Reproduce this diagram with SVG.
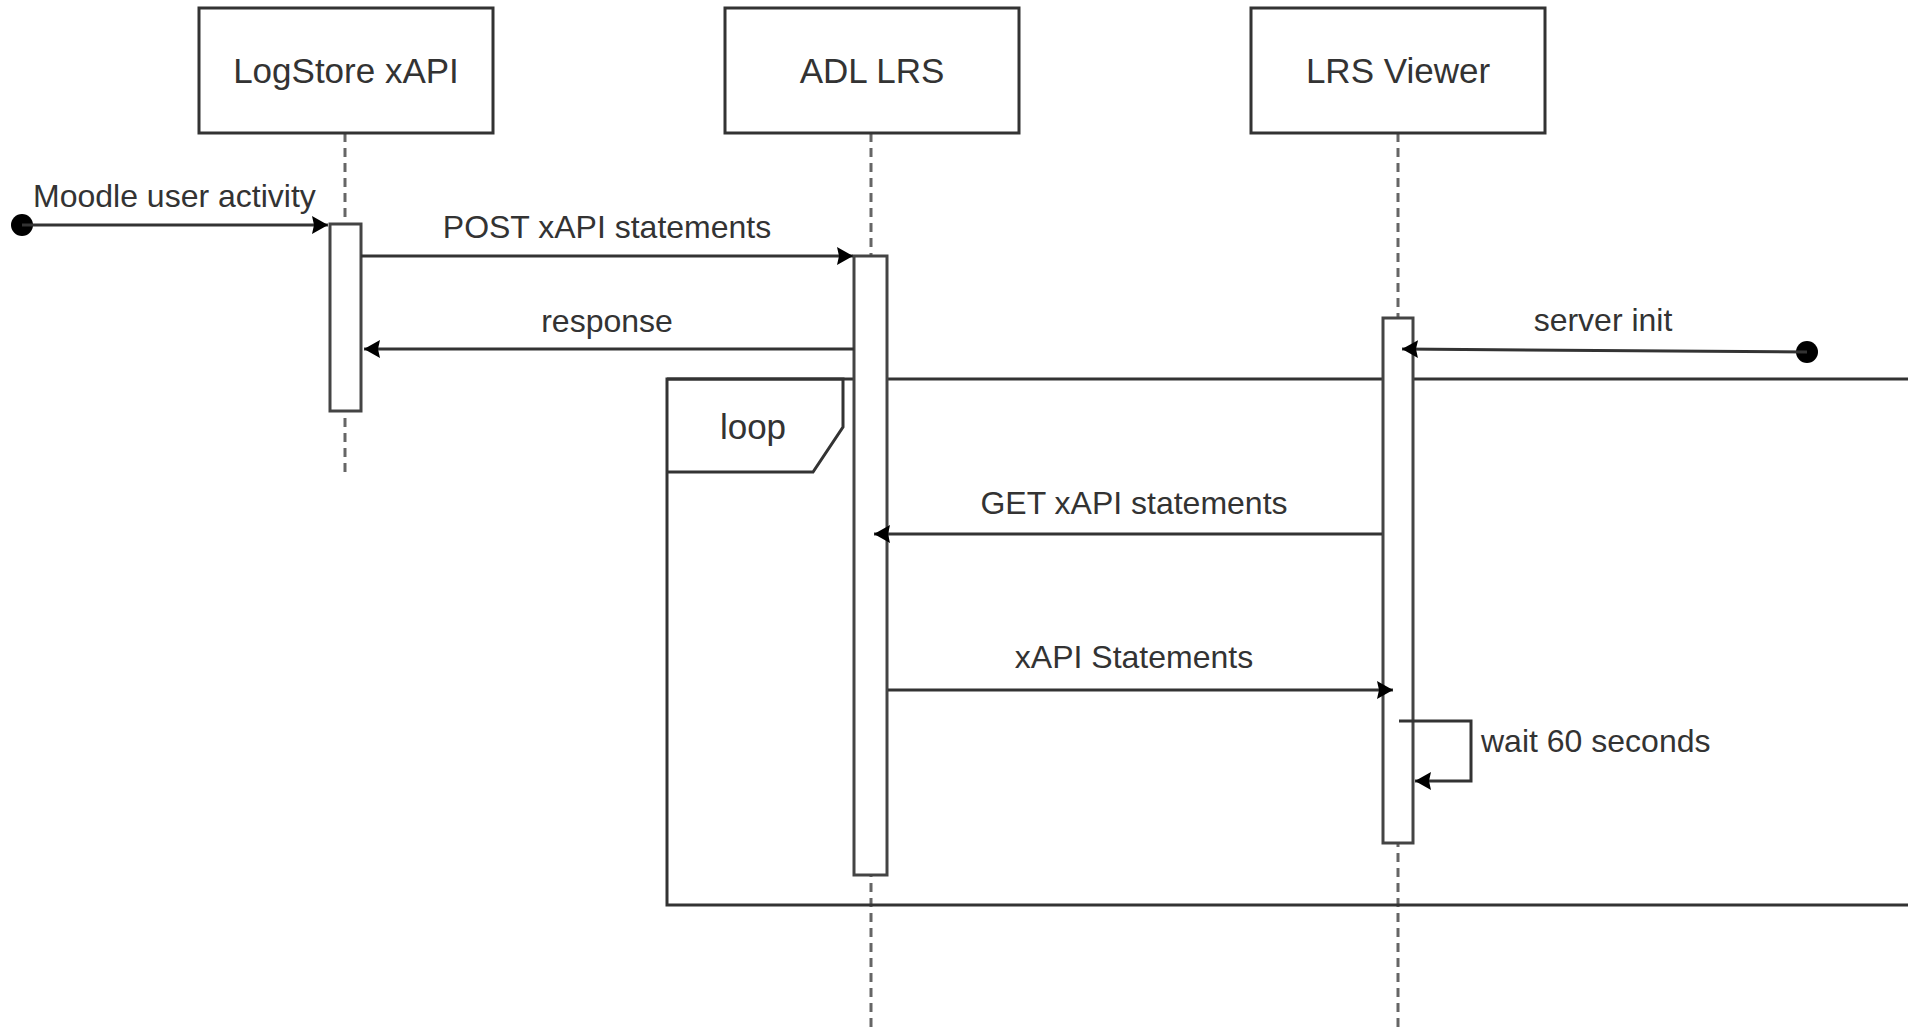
<svg xmlns="http://www.w3.org/2000/svg" width="1908" height="1032" viewBox="0 0 1908 1032">
<defs>
<style>
.box{fill:#fff;stroke:#333;stroke-width:3}
.bar{fill:#fff;stroke:#444;stroke-width:3}
.life{stroke:#666;stroke-width:3;stroke-dasharray:9 6;fill:none}
.msg{stroke:#333;stroke-width:3;fill:none}
.lbl{font-family:"Liberation Sans",Arial,sans-serif;font-size:35px;fill:#333;text-anchor:middle}
.mtxt{font-family:"Liberation Sans",Arial,sans-serif;font-size:32px;fill:#333}
</style>
<marker id="arr" markerUnits="userSpaceOnUse" markerWidth="22" markerHeight="22" refX="16" refY="11" orient="auto">
<path d="M0,2 L16,11 L0,20 L2,11 Z" fill="#000"/>
</marker>
</defs>
<rect width="1908" height="1032" fill="#fff"/>
<g id="lifelines">
<line class="life" x1="345" y1="133" x2="345" y2="472"/>
<line class="life" x1="871" y1="133" x2="871" y2="1032"/>
<line class="life" x1="1398" y1="133" x2="1398" y2="1032"/>
</g>
<g id="participant-logstore">
<rect class="box" x="199" y="8" width="294" height="125"/>
<text class="lbl" x="346" y="83">LogStore xAPI</text>
</g>
<g id="participant-adl">
<rect class="box" x="725" y="8" width="294" height="125"/>
<text class="lbl" x="872" y="83">ADL LRS</text>
</g>
<g id="participant-viewer">
<rect class="box" x="1251" y="8" width="294" height="125"/>
<text class="lbl" x="1398" y="83">LRS Viewer</text>
</g>
<g id="loop-frame">
<path class="msg" d="M1912,379 H667 V905 H1912"/>
<path class="msg" d="M667,379 H843 V427 L813,472 H667"/>
<text class="lbl" x="753" y="439">loop</text>
</g>
<g id="activation-logstore"><rect class="bar" x="330" y="224" width="31" height="187"/></g>
<g id="activation-adl"><rect class="bar" x="854" y="256" width="33" height="619"/></g>
<g id="activation-viewer"><rect class="bar" x="1383" y="318" width="30" height="525"/></g>
<g id="connectors">
<circle cx="22" cy="225" r="11" fill="#000"/>
<line class="msg" x1="22" y1="225" x2="328" y2="225" marker-end="url(#arr)"/>
<text class="mtxt" x="33" y="207">Moodle user activity</text>
<line class="msg" x1="361" y1="256" x2="853" y2="256" marker-end="url(#arr)"/>
<text class="mtxt" x="607" y="238" text-anchor="middle">POST xAPI statements</text>
<line class="msg" x1="854" y1="349" x2="364" y2="349" marker-end="url(#arr)"/>
<text class="mtxt" x="607" y="332" text-anchor="middle">response</text>
<circle cx="1807" cy="352" r="11" fill="#000"/>
<line class="msg" x1="1807" y1="352" x2="1402" y2="349" marker-end="url(#arr)"/>
<text class="mtxt" x="1603" y="331" text-anchor="middle">server init</text>
<line class="msg" x1="1382" y1="534" x2="874" y2="534" marker-end="url(#arr)"/>
<text class="mtxt" x="1134" y="514" text-anchor="middle">GET xAPI statements</text>
<line class="msg" x1="888" y1="690" x2="1393" y2="690" marker-end="url(#arr)"/>
<text class="mtxt" x="1134" y="668" text-anchor="middle">xAPI Statements</text>
<path class="msg" d="M1399,721 H1471 V781 H1415" marker-end="url(#arr)"/>
<text class="mtxt" x="1481" y="752">wait 60 seconds</text>
</g>
</svg>
